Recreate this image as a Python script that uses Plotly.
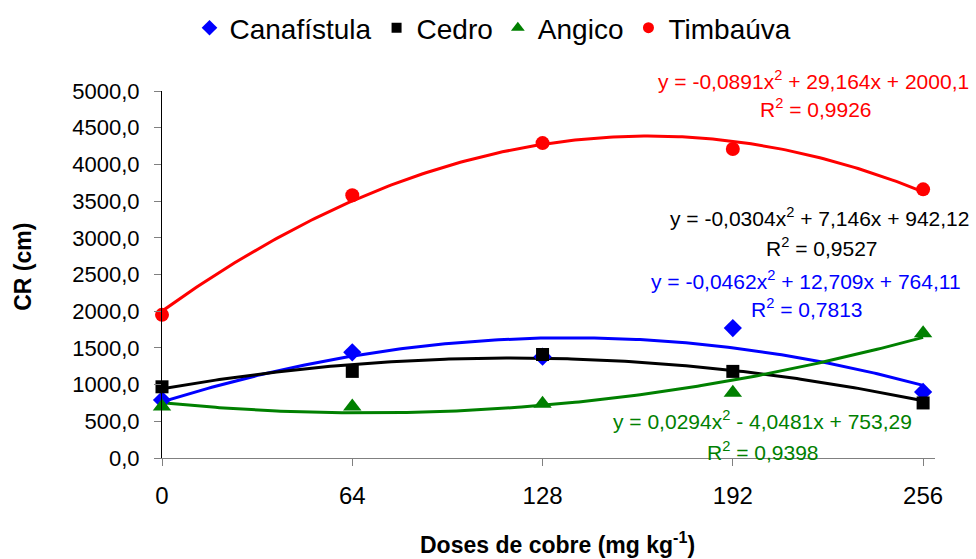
import numpy as np
import plotly.graph_objects as go

# ---- data ----
doses = [0, 64, 128, 192, 256]
canafistula = [790, 1440, 1380, 1770, 900]
cedro = [970, 1180, 1410, 1180, 750]
angico = [700, 700, 740, 890, 1700]
timbauva = [1950, 3580, 4290, 4210, 3660]

# quadratic trendline coefficients (a, b, c) as printed on the chart
coef_canafistula = [-0.0462, 12.709, 764.11]
coef_cedro = [-0.0304, 7.146, 942.12]
coef_angico = [0.0294, -4.0481, 753.29]
coef_timbauva = [-0.0891, 29.164, 2000.1]

eq_canafistula = ["y = -0,0462x<sup>2</sup> + 12,709x + 764,11", "R<sup>2</sup> = 0,7813"]
eq_cedro = ["y = -0,0304x<sup>2</sup> + 7,146x + 942,12", "R<sup>2</sup> = 0,9527"]
eq_angico = ["y = 0,0294x<sup>2</sup> - 4,0481x + 753,29", "R<sup>2</sup> = 0,9398"]
eq_timbauva = ["y = -0,0891x<sup>2</sup> + 29,164x + 2000,1", "R<sup>2</sup> = 0,9926"]

x_ticks = [0, 64, 128, 192, 256]
x_ticktext = ["0", "64", "128", "192", "256"]
y_ticks = [0, 500, 1000, 1500, 2000, 2500, 3000, 3500, 4000, 4500, 5000]
y_ticktext = ["0,0", "500,0", "1000,0", "1500,0", "2000,0", "2500,0", "3000,0",
              "3500,0", "4000,0", "4500,0", "5000,0"]

FONT = "Liberation Sans, Arial, sans-serif"
W, H = 976, 559
L, R, T, B = 162, 935, 91, 458.3

# name, values, coefs, colour, symbol, marker size, legend marker size, equation
series = [
    ("Canafístula", canafistula, coef_canafistula, "#0000FF", "diamond", 14, 12, eq_canafistula),
    ("Cedro", cedro, coef_cedro, "#000000", "square", 13, 10, eq_cedro),
    ("Angico", angico, coef_angico, "#008000", "triangle-up", 16, 12, eq_angico),
    ("Timbaúva", timbauva, coef_timbauva, "#FF0000", "circle", 14, 11, eq_timbauva),
]

fig = go.Figure()
xs = np.linspace(0, 256, 200)
for name, vals, coef, col, sym, sz, lsz, eq in series:
    a, b, c = coef
    fig.add_trace(go.Scatter(x=xs, y=a * xs**2 + b * xs + c, mode="lines",
                             line=dict(color=col, width=3), showlegend=False,
                             hoverinfo="skip", cliponaxis=False))
for name, vals, coef, col, sym, sz, lsz, eq in series:
    fig.add_trace(go.Scatter(x=doses, y=vals, mode="markers", name=name, showlegend=False,
                             legendgroup=name,
                             marker=dict(color=col, symbol=sym, size=sz),
                             cliponaxis=False))
    # legend entry with the smaller symbol used in the reference legend
    fig.add_trace(go.Scatter(x=[None], y=[None], mode="markers", name=name,
                             legendgroup=name,
                             marker=dict(color=col, symbol=sym, size=lsz)))


def px(x):
    return (x - L) / (R - L)


def py(y):
    return (B - y) / (B - T)


eq_pos = {
    "Timbaúva": [(813, 80), (816, 108)],
    "Cedro": [(819, 217), (822, 247)],
    "Canafístula": [(806, 280), (807, 308)],
    "Angico": [(762, 420), (763, 451)],
}
annotations = []
for name, vals, coef, col, sym, sz, lsz, eq in series:
    for txt, (cx, cy) in zip(eq, eq_pos[name]):
        annotations.append(dict(text=txt, x=px(cx), y=py(cy), xref="paper", yref="paper",
                                xanchor="center", yanchor="middle", showarrow=False,
                                font=dict(family=FONT, size=21, color=col)))

annotations.append(dict(text="<b>Doses de cobre (mg kg<sup>-1</sup>)</b>", x=px(557), y=py(543),
                        xref="paper", yref="paper", xanchor="center", yanchor="middle",
                        showarrow=False, font=dict(family=FONT, size=23, color="#000000")))
annotations.append(dict(text="<b>CR (cm)</b>", x=px(23), y=py(267), textangle=-90,
                        xref="paper", yref="paper", xanchor="center", yanchor="middle",
                        showarrow=False, font=dict(family=FONT, size=23, color="#000000")))

fig.update_layout(
    width=W, height=H,
    margin=dict(l=L, r=W - R, t=T, b=H - B, pad=0),
    paper_bgcolor="white", plot_bgcolor="white",
    font=dict(family=FONT, color="#000000"),
    annotations=annotations,
    legend=dict(orientation="h", xref="container", yref="container", x=0.5 + 5 / W,
                xanchor="center", y=1 - 28 / H, yanchor="middle",
                font=dict(family=FONT, size=28), bgcolor="rgba(0,0,0,0)"),
    xaxis=dict(range=[0, 260], tickvals=x_ticks, ticktext=x_ticktext, showgrid=False,
               zeroline=False, showline=True, linecolor="#808080", linewidth=1,
               ticks="outside", ticklen=7, tickcolor="#808080",
               tickfont=dict(family=FONT, size=24), ticklabelstandoff=9),
    yaxis=dict(range=[0, 5000], tickvals=y_ticks, ticktext=y_ticktext, showgrid=False,
               zeroline=False, showline=True, linecolor="#000000", linewidth=1,
               ticks="outside", ticklen=7, tickcolor="#808080",
               tickfont=dict(family=FONT, size=22), ticklabelstandoff=10),
)

fig.write_html("out.html")
